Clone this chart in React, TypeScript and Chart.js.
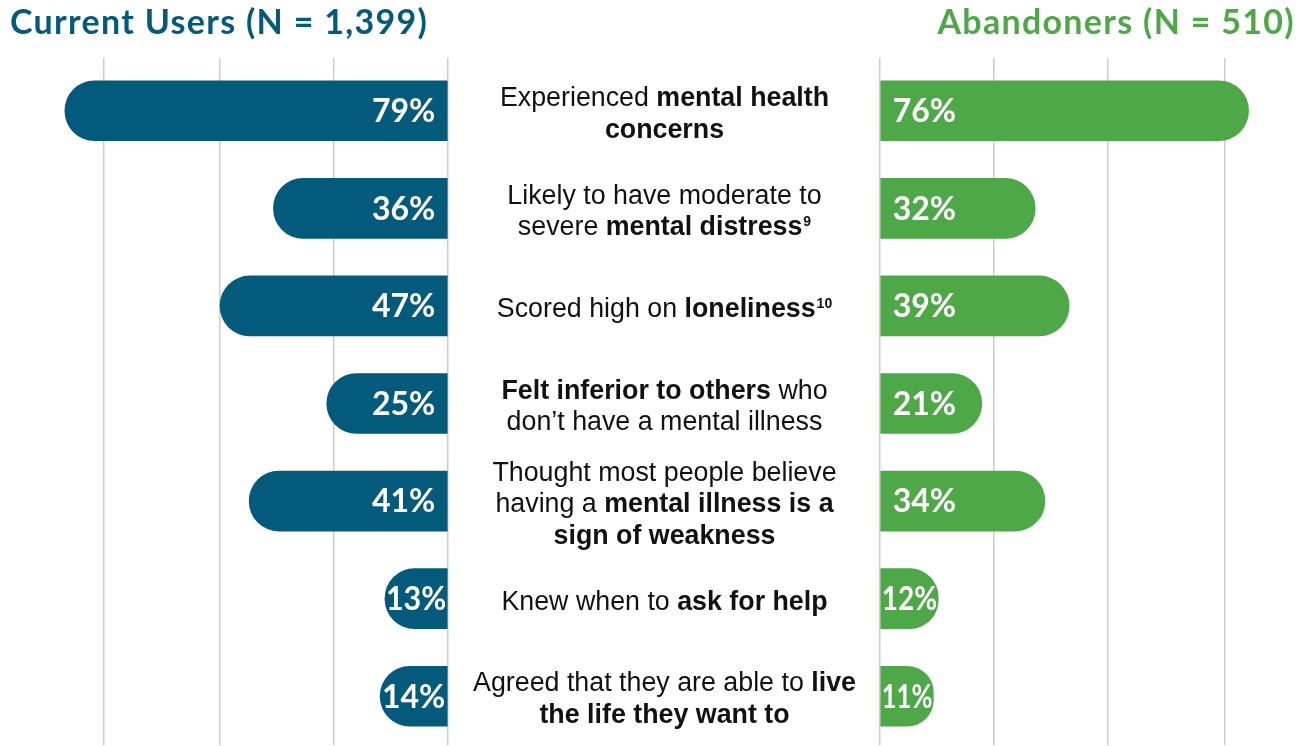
import React, { useEffect, useRef } from "react";
import { Chart, registerables } from "chart.js";

Chart.register(...registerables);

// ---------- data ----------
const categories: string[] = [
  "Experienced **mental health**\n**concerns**",
  "Likely to have moderate to\nsevere **mental distress**^9",
  "Scored high on **loneliness**^10",
  "**Felt inferior to others** who\ndon’t have a mental illness",
  "Thought most people believe\nhaving a **mental illness is a**\n**sign of weakness**",
  "Knew when to **ask for help**",
  "Agreed that they are able to **live**\n**the life they want to**",
];
const currentUsers: number[] = [79, 36, 47, 25, 41, 13, 14];
const abandoners: number[] = [76, 32, 39, 21, 34, 12, 11];
const gridValues: number[] = [0, 23.5, 47, 71];
const leftTitle = "Current Users (N = 1,399)";
const rightTitle = "Abandoners (N = 510)";

// ---------- styles / layout ----------
const PAGE_W = 1304;
const PAGE_H = 746;
const TEAL = "#045a7a";
const GREEN = "#4ea848";
const GRID = "#cbcbcb";
const PX_PER_PCT = 4.85;
const LEFT_CANVAS_W = 880;
const LEFT_BASE = 448;
const LEFT_MAX = 89;
const RIGHT_CANVAS_X = 868;
const RIGHT_BASE = 880;
const RIGHT_MAX = 87;
const PLOT_TOP = 62;
const PLOT_BOTTOM = 745;
const TICK_LEN = 4;
const LABEL_CENTER_X = 664.5;
const LABEL_FONT_SIZE = 26.8;
const LINE_H = 31.5;
const BASELINE_SHIFT = 11;
const VALUE_FONT = "bold 32px Lato";

type Seg = { t: string; b?: boolean; sup?: boolean; w?: number };

function parseSegments(line: string): Seg[] {
  return line
    .split(/(\*\*[^*]+\*\*|\^\d+)/)
    .filter((s) => s.length > 0)
    .map((t) => {
      if (t.startsWith("**")) return { t: t.slice(2, -2), b: true };
      if (t.startsWith("^")) return { t: t.slice(1), sup: true };
      return { t };
    });
}

function fontFor(s: Seg): string {
  if (s.sup) return 'bold 14px "Liberation Sans"';
  return `${s.b ? "bold " : ""}${LABEL_FONT_SIZE}px "Liberation Sans"`;
}

const middleLabelPlugin = {
  id: "middleLabels",
  afterDraw(chart: any) {
    const ctx: CanvasRenderingContext2D = chart.ctx;
    const yScale = chart.scales.y;
    ctx.save();
    ctx.fillStyle = "#111111";
    ctx.textAlign = "left";
    ctx.textBaseline = "alphabetic";
    categories.forEach((label, i) => {
      const yc = yScale.getPixelForValue(i);
      const lines = label.split("\n");
      lines.forEach((line, k) => {
        const segs = parseSegments(line);
        let total = 0;
        segs.forEach((s) => {
          ctx.font = fontFor(s);
          s.w = ctx.measureText(s.t).width + (s.sup ? 1 : 0);
          total += s.w;
        });
        let x = LABEL_CENTER_X - total / 2;
        const baseline = yc + (k - (lines.length - 1) / 2) * LINE_H + BASELINE_SHIFT;
        segs.forEach((s) => {
          ctx.font = fontFor(s);
          ctx.fillText(s.t, x + (s.sup ? 1 : 0), s.sup ? baseline - 9 : baseline);
          x += s.w || 0;
        });
      });
    });
    ctx.restore();
  },
};

const valueLabelPlugin = {
  id: "valueLabels",
  afterDatasetsDraw(chart: any) {
    const ctx: CanvasRenderingContext2D = chart.ctx;
    const meta = chart.getDatasetMeta(0);
    const data = chart.data.datasets[0].data as number[];
    ctx.save();
    ctx.font = VALUE_FONT;
    ctx.fillStyle = "#ffffff";
    ctx.textBaseline = "middle";
    meta.data.forEach((bar: any, i: number) => {
      const { x, y, base } = bar.getProps(["x", "y", "base"], true);
      const text = `${data[i]}%`;
      const len = Math.abs(x - base);
      const w = ctx.measureText(text).width;
      const pad = Math.max(1, Math.min(12, (len - w) / 2));
      const maxW = Math.max(10, len - 2);
      if (x < base) {
        ctx.textAlign = "right";
        ctx.fillText(text, base - pad, y + 1, maxW);
      } else {
        ctx.textAlign = "left";
        ctx.fillText(text, base + pad, y + 1, maxW);
      }
    });
    ctx.restore();
  },
};

function buildChart(
  canvas: HTMLCanvasElement,
  values: number[],
  color: string,
  reverse: boolean,
  padLeft: number,
  padRight: number,
  max: number,
  extraPlugins: any[]
) {
  return new Chart(canvas, {
    type: "bar",
    data: {
      labels: categories,
      datasets: [
        {
          data: values,
          backgroundColor: color,
          barThickness: 60,
          borderRadius: 30,
          borderSkipped: "start",
        },
      ],
    },
    options: {
      indexAxis: "y",
      responsive: false,
      animation: false,
      layout: {
        padding: {
          left: padLeft,
          right: padRight,
          top: PLOT_TOP - TICK_LEN,
          bottom: PAGE_H - PLOT_BOTTOM,
        },
      },
      scales: {
        x: {
          type: "linear",
          position: "top",
          reverse,
          min: 0,
          max,
          afterBuildTicks: (s: any) => {
            s.ticks = gridValues.map((v) => ({ value: v }));
          },
          ticks: { display: false },
          grid: { color: GRID, lineWidth: 1.5, drawTicks: true, tickLength: TICK_LEN },
          border: { display: false },
        },
        y: { display: false, offset: true },
      },
      plugins: {
        legend: { display: false },
        tooltip: { enabled: false },
      },
    } as any,
    plugins: [valueLabelPlugin, ...extraPlugins],
  });
}

export default function App() {
  const leftRef = useRef<HTMLCanvasElement>(null);
  const rightRef = useRef<HTMLCanvasElement>(null);

  useEffect(() => {
    const leftPadLeft = LEFT_BASE - PX_PER_PCT * LEFT_MAX;
    const leftPadRight = LEFT_CANVAS_W - LEFT_BASE;
    const rightW = PAGE_W - RIGHT_CANVAS_X;
    const rightPadLeft = RIGHT_BASE - RIGHT_CANVAS_X;
    const rightPadRight = rightW - rightPadLeft - PX_PER_PCT * RIGHT_MAX;
    const left = buildChart(
      leftRef.current!,
      currentUsers,
      TEAL,
      true,
      leftPadLeft,
      leftPadRight,
      LEFT_MAX,
      [middleLabelPlugin]
    );
    const right = buildChart(
      rightRef.current!,
      abandoners,
      GREEN,
      false,
      rightPadLeft,
      rightPadRight,
      RIGHT_MAX,
      []
    );
    return () => {
      left.destroy();
      right.destroy();
    };
  }, []);

  const titleStyle: React.CSSProperties = {
    position: "absolute",
    top: 1,
    fontFamily: "Lato",
    fontWeight: 700,
    fontSize: 34,
    lineHeight: "40px",
    letterSpacing: "1.3px",
    whiteSpace: "nowrap",
  };

  return (
    <div
      style={{
        position: "absolute",
        left: 0,
        top: 0,
        width: PAGE_W,
        height: PAGE_H,
        background: "#ffffff",
        overflow: "hidden",
      }}
    >
      <canvas
        ref={leftRef}
        width={LEFT_CANVAS_W}
        height={PAGE_H}
        style={{ position: "absolute", left: 0, top: 0, width: LEFT_CANVAS_W, height: PAGE_H }}
      />
      <canvas
        ref={rightRef}
        width={PAGE_W - RIGHT_CANVAS_X}
        height={PAGE_H}
        style={{
          position: "absolute",
          left: RIGHT_CANVAS_X,
          top: 0,
          width: PAGE_W - RIGHT_CANVAS_X,
          height: PAGE_H,
        }}
      />
      <div style={{ ...titleStyle, left: 10, color: TEAL }}>{leftTitle}</div>
      <div style={{ ...titleStyle, right: 9, color: GREEN }}>{rightTitle}</div>
    </div>
  );
}
